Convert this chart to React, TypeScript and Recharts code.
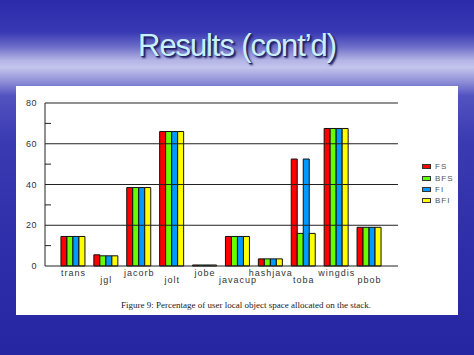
import { BarChart, Bar, XAxis, YAxis, ReferenceLine } from "recharts";

const programs = ["trans", "jgl", "jacorb", "jolt", "jobe", "javacup", "hashjava", "toba", "wingdis", "pbob"];
const fs = [14.5, 5.5, 38.5, 66, 0.5, 14.5, 3.5, 52.5, 67.5, 19];
const bfs = [14.5, 5, 38.5, 66, 0.5, 14.5, 3.5, 16, 67.5, 19];
const fi = [14.5, 5, 38.5, 66, 0.5, 14.5, 3.5, 52.5, 67.5, 19];
const bfi = [14.5, 5, 38.5, 66, 0.5, 14.5, 3.5, 16, 67.5, 19];
const yTicks = [0, 10, 20, 30, 40, 50, 60, 70, 80];
const gridLines = [20, 40, 60, 80];

const series = [
  { key: "FS", color: "#ff0000" },
  { key: "BFS", color: "#66ff00" },
  { key: "FI", color: "#0099ff" },
  { key: "BFI", color: "#ffff00" },
];

const data = programs.map((name, i) => ({
  name,
  FS: fs[i],
  BFS: bfs[i],
  FI: fi[i],
  BFI: bfi[i],
}));

const XTick = ({ x, y, payload, index }: any) => (
  <text
    x={x}
    y={y + (index % 2 ? 16.5 : 9.5)}
    textAnchor="middle"
    fontSize={9}
    letterSpacing={1}
    fill="#333"
    fontFamily="Liberation Sans, Arial, sans-serif"
  >
    {payload.value}
  </text>
);

const YTick = ({ x, y, payload }: any) => {
  // minor ticks are short marks inside the plot, majors get a label
  if (payload.value % 20 !== 0) {
    return <line x1={x + 8} x2={x + 14} y1={y} y2={y} stroke="#222" strokeWidth={1} />;
  }
  return (
    <text
      x={x}
      y={y + 3}
      textAnchor="end"
      fontSize={9}
      letterSpacing={0.5}
      fill="#333"
      fontFamily="Liberation Sans, Arial, sans-serif"
    >
      {payload.value}
    </text>
  );
};

export default function App() {
  return (
    <div
      style={{
        position: "absolute",
        left: 0,
        top: 0,
        width: 474,
        height: 355,
        overflow: "hidden",
        background:
          "linear-gradient(180deg, #2c2caa 0%, #3838b4 9%, #6a6ac8 13%, #b4b4e6 17%, #c4c4ec 19%, #8e8ed8 23%, #5252c0 27%, #3a3ab2 40%, #2e2eaa 70%, #2626a2 100%)",
      }}
    >
      <div
        style={{
          position: "absolute",
          left: 0,
          width: 474,
          top: 30,
          textAlign: "center",
          fontFamily: "Liberation Sans, Arial, sans-serif",
          fontSize: 31,
          lineHeight: "31px",
          letterSpacing: -1.1,
          color: "#c8f0fc",
          textShadow: "1px 1px 0 #23236a, 2px 2px 2px #1a1a5a",
        }}
      >
        Results (cont’d)
      </div>

      <div
        style={{
          position: "absolute",
          left: 16,
          top: 86,
          width: 442,
          height: 229,
          background: "#fff",
        }}
      >
        <BarChart
          width={442}
          height={210}
          data={data}
          margin={{ top: 17, right: 60, bottom: 0, left: 0 }}
          barCategoryGap="12%"
          barGap={0}
        >
          <XAxis
            dataKey="name"
            height={30}
            padding={{ left: 12, right: 12 }}
            tickLine={false}
            tickSize={0}
            tickMargin={0}
            interval={0}
            axisLine={{ stroke: "#222" }}
            tick={<XTick />}
          />
          <YAxis
            width={29}
            domain={[0, 80]}
            ticks={yTicks}
            interval={0}
            tickLine={false}
            tickSize={0}
            tickMargin={8}
            axisLine={{ stroke: "#222" }}
            tick={<YTick />}
          />
          <YAxis
            yAxisId="right"
            orientation="right"
            width={0}
            domain={[0, 80]}
            tick={false}
            tickLine={false}
            axisLine={{ stroke: "#222" }}
          />
          {gridLines.map((v) => (
            <ReferenceLine key={v} y={v} stroke="#222" strokeWidth={1} />
          ))}
          {series.map((s) => (
            <Bar
              key={s.key}
              dataKey={s.key}
              fill={s.color}
              stroke="#111"
              strokeWidth={1}
              isAnimationActive={false}
            />
          ))}
        </BarChart>

        {/* legend sits in the white margin right of the plot */}
        <div
          style={{
            position: "absolute",
            left: 406,
            top: 75,
            fontFamily: "Liberation Sans, Arial, sans-serif",
          }}
        >
          {series.map((s) => (
            <div key={s.key} style={{ display: "flex", alignItems: "center", height: 11.4 }}>
              <span
                style={{
                  display: "inline-block",
                  width: 7,
                  height: 3,
                  background: s.color,
                  border: "1px solid #333",
                  marginRight: 4,
                }}
              />
              <span style={{ fontSize: 8, letterSpacing: 1, color: "#555" }}>{s.key}</span>
            </div>
          ))}
        </div>

        <div
          style={{
            position: "absolute",
            left: 104,
            top: 214,
            width: 252,
            textAlign: "center",
            fontFamily: "Liberation Serif, Times New Roman, serif",
            fontSize: 9,
            whiteSpace: "nowrap",
            color: "#222",
          }}
        >
          Figure 9: Percentage of user local object space allocated on the stack.
        </div>
      </div>
    </div>
  );
}
